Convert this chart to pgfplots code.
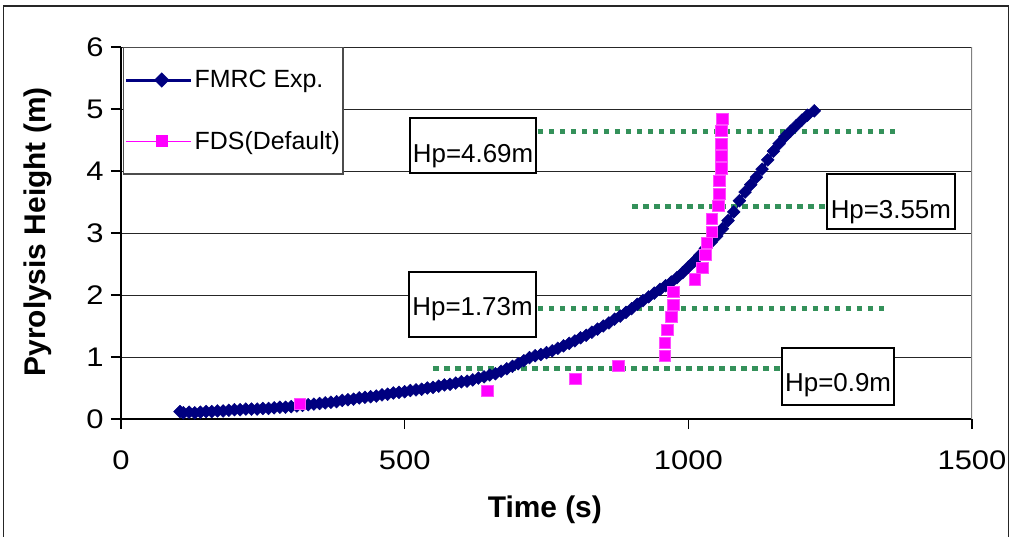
\documentclass[border=0pt]{standalone}
\usepackage{fontspec}
\setmainfont{Liberation Sans}
\newfontfamily\tickfont{Liberation Sans}[FakeStretch=1.15]
\usepackage{pgfplots}
\pgfplotsset{compat=1.18}
\definecolor{fmrc}{RGB}{0,0,128}
\definecolor{fds}{RGB}{255,0,255}
\definecolor{hpgreen}{RGB}{52,145,90}
\begin{document}
\begin{tikzpicture}
\useasboundingbox (0,0) rectangle (1011bp,537bp);
\fill[white] (0,0) rectangle (1011bp,537bp);
\begin{axis}[
  scale only axis, width=851bp, height=372bp,
  at={(121bp,118bp)}, anchor=south west,
  xmin=0, xmax=1500, ymin=0, ymax=6,
  xtick={0,500,1000,1500}, ytick={0,1,2,3,4,5,6},
  axis x line*=bottom, axis y line*=left,
  axis line style={black, line width=1.2bp},
  tick align=outside, major tick length=10bp,
  tick style={black, line width=1.2bp},
  ymajorgrids, grid style={black!85, line width=0.9bp},
  /pgf/number format/assume math mode=true,
  /pgf/number format/1000 sep={},
  ticklabel style={font=\tickfont\fontsize{27}{30}\selectfont},
  xticklabel style={yshift=-18bp},
  yticklabel style={xshift=-4bp},
  xlabel={Time (s)}, ylabel={Pyrolysis Height (m)},
  label style={font=\bfseries\fontsize{30}{34}\selectfont},
  xlabel style={at={(axis description cs:0.498,-0.245)}, anchor=center},
  ylabel style={at={(axis description cs:-0.0975,0.503)}, anchor=center},
  legend style={at={(rel axis cs:0.0025,1)}, anchor=north west,
    draw=black!70, line width=1.2bp, fill=white,
    font=\fontsize{25}{28}\selectfont,
    inner xsep=1bp, inner ysep=21bp, row sep=38bp},
  legend cell align=left,
]
\draw[black!50, line width=1.2bp] (rel axis cs:1,0) -- (rel axis cs:1,1);
\addplot[fmrc, line width=3bp, mark=square*, mark size=4.5bp, mark options={rotate=45, fill=fmrc, draw=fmrc, line width=0.5bp},
  legend image code/.code={\path (0bp,0bp) -- (65bp,0bp); \draw[fmrc, line width=1.3bp] (9bp,0bp) -- (62bp,0bp); \fill[fmrc] (35.5bp,-5.5bp) -- (41bp,0bp) -- (35.5bp,5.5bp) -- (30bp,0bp) -- cycle;}] table {
x y
104 0.12
110 0.10
120 0.11
130 0.10
140 0.11
150 0.12
160 0.12
170 0.13
180 0.13
190 0.14
200 0.15
210 0.15
220 0.16
230 0.16
240 0.16
250 0.17
260 0.17
270 0.18
280 0.19
290 0.19
300 0.20
310 0.21
320 0.22
330 0.23
340 0.24
350 0.25
360 0.26
370 0.27
380 0.28
390 0.30
400 0.31
410 0.32
420 0.34
430 0.35
440 0.36
450 0.37
460 0.39
470 0.40
480 0.42
490 0.43
500 0.44
510 0.46
520 0.47
530 0.48
540 0.50
550 0.51
560 0.53
570 0.55
580 0.56
590 0.58
600 0.60
610 0.61
620 0.63
630 0.66
640 0.68
650 0.71
660 0.73
670 0.77
680 0.81
690 0.85
700 0.89
710 0.94
720 0.99
730 1.02
740 1.04
750 1.07
760 1.10
770 1.14
780 1.18
790 1.22
800 1.26
810 1.31
820 1.35
830 1.40
840 1.45
850 1.50
860 1.55
870 1.61
880 1.66
890 1.72
900 1.78
910 1.85
920 1.91
930 1.97
940 2.03
950 2.09
960 2.15
970 2.21
980 2.28
990 2.36
1000 2.45
1010 2.54
1020 2.64
1030 2.75
1040 2.85
1050 2.95
1060 3.07
1070 3.20
1080 3.34
1090 3.52
1100 3.66
1110 3.78
1120 3.90
1130 4.03
1140 4.18
1150 4.32
1160 4.44
1170 4.55
1180 4.64
1190 4.73
1200 4.82
1210 4.90
1222 4.97
};
\addlegendentry{FMRC Exp.}
\addplot[fds, only marks, mark=square*, mark size=5.7bp, mark options={fill=fds, draw=fds!70, line width=0.8bp},
  legend image code/.code={\path (0bp,0bp) -- (65bp,0bp); \draw[fds, line width=1.3bp] (9bp,0bp) -- (62bp,0bp); \fill[fds] (30bp,-5.5bp) rectangle (41bp,5.5bp);}] table {
x y
315 0.24
646 0.45
801 0.65
877 0.86
959 1.02
959 1.23
963 1.44
970 1.65
974 1.84
974 2.05
1012 2.25
1025 2.44
1030 2.65
1033 2.84
1042 3.02
1042 3.23
1053 3.44
1055 3.63
1055 3.84
1058 4.04
1058 4.24
1058 4.44
1058 4.65
1060 4.84
};
\addlegendentry{FDS(Default)}
\addplot[hpgreen, line width=5bp, dash pattern=on 5.5bp off 5.5bp, forget plot] coordinates {(735,4.645) (1364,4.645)};
\addplot[hpgreen, line width=5bp, dash pattern=on 5.5bp off 5.5bp, forget plot] coordinates {(901,3.42) (1243,3.42)};
\addplot[hpgreen, line width=5bp, dash pattern=on 5.5bp off 5.5bp, forget plot] coordinates {(735,1.79) (1347,1.79)};
\addplot[hpgreen, line width=5bp, dash pattern=on 5.5bp off 5.5bp, forget plot] coordinates {(550,0.81) (1165,0.81)};
\node[draw=black, fill=white, line width=1.8bp, minimum width=126bp, minimum height=55bp, inner sep=0pt] at (axis cs:620.5,4.41) {};
\node[anchor=base, font=\fontsize{26}{30}\selectfont] at (axis cs:620.5,4.13) {Hp=4.69m};
\node[draw=black, fill=white, line width=1.8bp, minimum width=128bp, minimum height=55bp, inner sep=0pt] at (axis cs:1357,3.51) {};
\node[anchor=base, font=\fontsize{26}{30}\selectfont] at (axis cs:1357,3.24) {Hp=3.55m};
\node[draw=black, fill=white, line width=1.8bp, minimum width=127bp, minimum height=65bp, inner sep=0pt] at (axis cs:619.6,1.847) {};
\node[anchor=base, font=\fontsize{26}{30}\selectfont] at (axis cs:619.6,1.677) {Hp=1.73m};
\node[draw=black, fill=white, line width=1.8bp, minimum width=112bp, minimum height=57bp, inner sep=0pt] at (axis cs:1264,0.685) {};
\node[anchor=base, font=\fontsize{26}{30}\selectfont] at (axis cs:1264,0.45) {Hp=0.9m};
\end{axis}
\draw[line width=1.5bp, black!85] (3.5bp,-10bp) -- (3.5bp,531bp) -- (1008.5bp,531bp) -- (1008.5bp,-10bp);
\end{tikzpicture}
\end{document}
